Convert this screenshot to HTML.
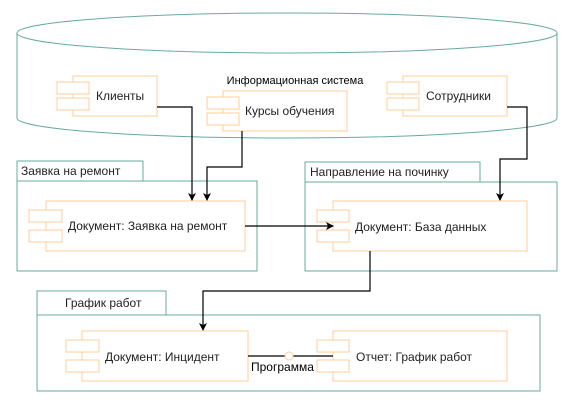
<!DOCTYPE html>
<html><head><meta charset="utf-8"><style>
html,body{margin:0;padding:0;background:#fff;}
svg{display:block;font-family:"Liberation Sans","Noto Sans CJK SC",sans-serif;font-size:12px;}
text{fill:#222;}
</style></head><body>
<svg width="575" height="409" viewBox="0 0 575 409" xmlns="http://www.w3.org/2000/svg">
<defs><marker id="a" markerWidth="8" markerHeight="8" refX="7" refY="4" orient="auto" markerUnits="userSpaceOnUse"><path d="M0,0 L8,4 L0,8 L2,4 Z" fill="#000"/></marker></defs>
<g fill="#fff" stroke="#67AB9F" stroke-width="1">
<path d="M17,33 L17,118 A270,20 0 0 0 557,118 L557,33"/>
<ellipse cx="287" cy="33" rx="270" ry="20"/>
</g>
<text x="295" y="84" text-anchor="middle" style="font-size:11px;fill:#000">Информационная система</text>
<g fill="#fff" stroke="#FFCC99">
<rect x="73" y="76" width="84" height="40"/><rect x="57" y="82" width="32" height="12"/><rect x="57" y="98" width="32" height="12"/>
<rect x="223" y="91" width="124" height="40"/><rect x="207" y="97" width="32" height="12"/><rect x="207" y="113" width="32" height="12"/>
<rect x="403" y="76" width="104" height="40"/><rect x="387" y="82" width="32" height="12"/><rect x="387" y="98" width="32" height="12"/>
</g>
<text x="96" y="100">Клиенты</text>
<text x="245" y="115">Курсы обучения</text>
<text x="426" y="100">Сотрудники</text>
<g fill="#fff" stroke="#67AB9F">
<rect x="17" y="161" width="126" height="20"/><rect x="17" y="181" width="240" height="90"/>
<rect x="305" y="162" width="175" height="20"/><rect x="305" y="182" width="252" height="89"/>
<rect x="37" y="291" width="129" height="24"/><rect x="37" y="315" width="503" height="76"/>
</g>
<text x="21" y="175">Заявка на ремонт</text>
<text x="310" y="176">Направление  на починку</text>
<text x="65" y="307">График работ</text>
<g fill="#fff" stroke="#FFCC99">
<rect x="46" y="201" width="199" height="50"/><rect x="29" y="210" width="33" height="12"/><rect x="29" y="230" width="33" height="12"/>
<rect x="333" y="201" width="194" height="50"/><rect x="317" y="210" width="32" height="12"/><rect x="317" y="230" width="32" height="12"/>
<rect x="82" y="331" width="166" height="50"/><rect x="66" y="340" width="33" height="12"/><rect x="66" y="360" width="33" height="12"/>
<rect x="333" y="331" width="174" height="50"/><rect x="317" y="340" width="32" height="12"/><rect x="317" y="360" width="32" height="12"/>
</g>
<text x="68" y="230">Документ: Заявка на ремонт</text>
<text x="355" y="231">Документ: База данных</text>
<text x="105" y="361">Документ: Инцидент</text>
<text x="356" y="361">Отчет: График работ</text>
<g fill="none" stroke="#000" stroke-width="1.2">
<path d="M157,107 H192 V200" marker-end="url(#a)"/>
<path d="M242,131 V167 H207 V200" marker-end="url(#a)"/>
<path d="M507,107 H527 V159 H500 V200" marker-end="url(#a)"/>
<path d="M245,226 H333" marker-end="url(#a)"/>
<path d="M370,251 V291 H203 V330" marker-end="url(#a)"/>
<path d="M248,356 H285 M293,356 H333"/>
</g>
<circle cx="289" cy="356" r="4" fill="#fff" stroke="#FFCC99"/>
<text x="251" y="371" style="fill:#000">Программа</text>
</svg>
</body></html>
